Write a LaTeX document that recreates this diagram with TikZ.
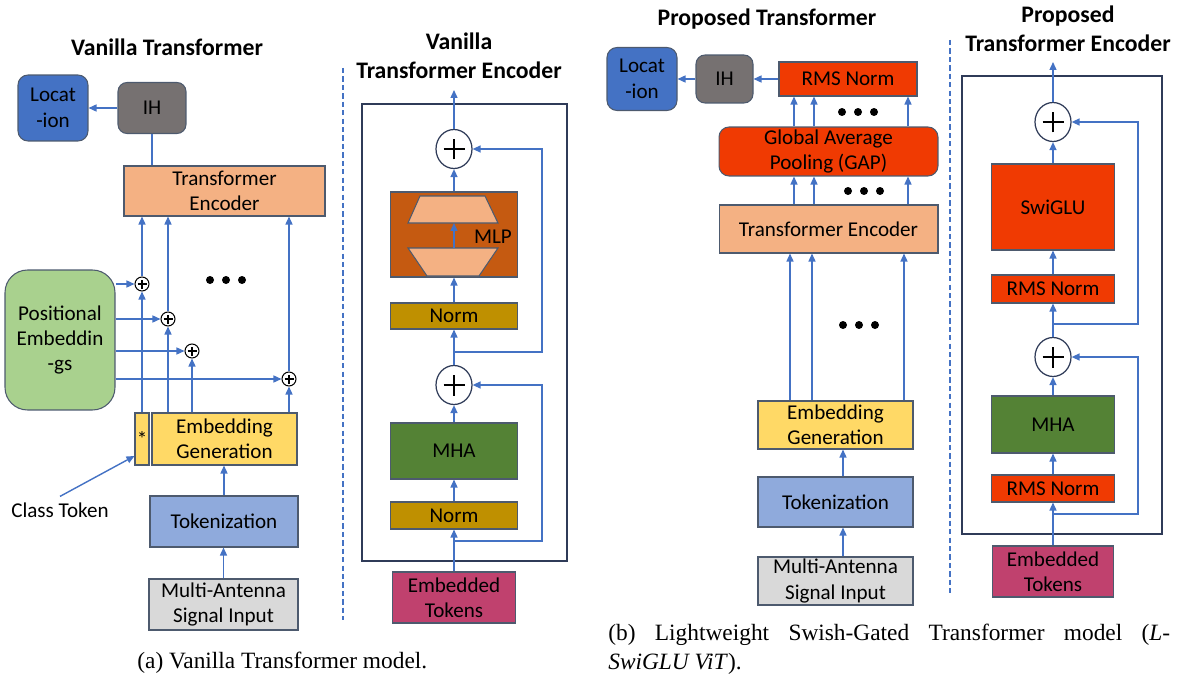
\documentclass[tikz,border=0pt]{standalone}
\usepackage{fontspec}
\setmainfont{Carlito}
\newfontfamily\capfont{Liberation Serif}
\usepackage{xcolor}
\usetikzlibrary{arrows.meta,shapes.geometric}

\definecolor{arrblue}{HTML}{4472C4}
\definecolor{edge}{HTML}{4D5A6E}
\definecolor{navy}{HTML}{2F3B58}
\definecolor{locblue}{HTML}{4472C4}
\definecolor{ihgray}{HTML}{767171}
\definecolor{encorange}{HTML}{F4B183}
\definecolor{posgreen}{HTML}{A9D18E}
\definecolor{embyellow}{HTML}{FFD966}
\definecolor{tokblue}{HTML}{8FAADC}
\definecolor{inpgray}{HTML}{D9D9D9}
\definecolor{mlporange}{HTML}{C55A11}
\definecolor{normgold}{HTML}{BF9000}
\definecolor{mhagreen}{HTML}{548235}
\definecolor{tokpink}{HTML}{C0416E}
\definecolor{rmsred}{HTML}{F03A02}

\tikzset{
  blk/.style={draw=edge, line width=0.6pt, align=center, inner sep=0pt},
  wh/.style 2 args={minimum width=#1cm, minimum height=#2cm},
  outer/.style={draw=navy, line width=1.1pt, inner sep=0pt},
  ttl/.style={font=\bfseries\fontsize{13.5}{16.3}\selectfont, align=center},
  arr/.style={draw=arrblue, line width=0.8pt, -{Triangle[length=1.6mm,width=1.4mm]}},
  ln/.style={draw=arrblue, line width=0.8pt},
  sep/.style={draw=arrblue, line width=1pt, dash pattern=on 3pt off 1.8pt},
  captxt/.style={anchor=base west, inner sep=0pt, font=\capfont\fontsize{13.3}{16.6}\selectfont},
  sumbig/.style={ellipse, draw=navy, line width=0.7pt, fill=white, inner sep=0pt,
    minimum width=0.72cm, minimum height=0.78cm,
    path picture={\draw[line width=1.4pt, black]
      ([xshift=-0.21cm]path picture bounding box.center) -- ([xshift=0.21cm]path picture bounding box.center)
      ([yshift=-0.21cm]path picture bounding box.center) -- ([yshift=0.21cm]path picture bounding box.center);}},
  sumsmall/.style={circle, draw=black, line width=0.6pt, fill=white, inner sep=0pt,
    minimum size=0.28cm,
    path picture={\draw[line width=0.7pt, black]
      ([xshift=-0.09cm]path picture bounding box.center) -- ([xshift=0.09cm]path picture bounding box.center)
      ([yshift=-0.09cm]path picture bounding box.center) -- ([yshift=0.09cm]path picture bounding box.center);}},
}

\begin{document}
\begin{tikzpicture}[x=0.02cm, y=-0.02cm, every node/.style={font=\fontsize{12}{14.5}\selectfont}]
    \useasboundingbox (0,0) rectangle (1187,679);

    % (a) Vanilla Transformer
    \node[ttl] (ttl1) at (167,47) {Vanilla Transformer};
    \node[blk, fill=locblue, rounded corners=0.2cm, wh={1.4}{1.32}] (loc1) at (53,108) {Locat\\-ion};
    \node[blk, fill=ihgray, rounded corners=0.18cm, wh={1.36}{1.02}] (ih1) at (152,108) {IH};
    \node[blk, fill=encorange, wh={4.02}{1.0}] (enc1) at (224.5,191) {Transformer\\Encoder};
    \node[blk, fill=posgreen, rounded corners=0.45cm, wh={2.2}{2.8}] (pos) at (60,340) {Positional\\Embeddin\\-gs};
    \node[blk, fill=embyellow, wh={0.28}{1.04}] (star) at (142,439) {*};
    \node[blk, fill=embyellow, wh={2.9}{1.04}] (emb1) at (224.5,439) {Embedding\\Generation};
    \node[blk, fill=tokblue, wh={2.96}{1.02}] (tok1) at (224,521.5) {Tokenization};
    \node[blk, fill=inpgray, wh={2.98}{1.02}] (inp1) at (223.5,604.5) {Multi-Antenna\\Signal Input};
    \node (ctok) at (60,510) {Class Token};

    % adders
    \node[sumsmall] (p1) at (142,284) {};
    \node[sumsmall] (p2) at (168,319) {};
    \node[sumsmall] (p3) at (192,351) {};
    \node[sumsmall] (p4) at (289,379) {};
    \foreach \dx in {-16,0,16} \fill (226+\dx,280) circle (0.08cm);

    \draw[arr] (ih1) -- (loc1);
    \draw[ln] (enc1.north -| ih1.south) -- (ih1.south);
    \draw[arr] (star) -- (p1);
    \draw[arr] (p1) -- (p1 |- enc1.south);
    \draw[arr] (emb1.north -| p2) -- (p2);
    \draw[arr] (p2) -- (p2 |- enc1.south);
    \draw[arr] (emb1.north -| p3) -- (p3);
    \draw[arr] (emb1.north -| p4) -- (p4);
    \draw[arr] (p4) -- (p4 |- enc1.south);
    \foreach \p in {p1,p2,p3,p4} \draw[arr] (pos.east |- \p) -- (\p);
    \draw[arr] (ctok.north) -- ([yshift=-0.34cm]star.west);
    \draw[arr] (tok1.north) -- (tok1.north |- emb1.south);
    \draw[arr] (inp1.north) -- (inp1.north |- tok1.south);

    % Vanilla encoder
    \draw[sep] (343,68) -- (343,620);
    \node[ttl] (ttl2) at (459,55.5) {Vanilla\\Transformer Encoder};
    \node[outer, wh={4.1}{9.14}] (venc) at (464.5,332.5) {};
    \node[sumbig] (sA) at (454,149) {};
    \node[blk, fill=mlporange, wh={2.54}{1.7}] (mlp) at (454,234.5) {};
    \draw[draw=edge, line width=0.6pt, fill=encorange] (420,196) -- (485,196) -- (498,223) -- (408,223) -- cycle;
    \draw[draw=edge, line width=0.6pt, fill=encorange] (408,248) -- (498,248) -- (479,276) -- (427,276) -- cycle;
    \coordinate (tT) at (454,223);
    \coordinate (tB) at (454,248);
    \draw[arr] (tB) -- (tT);
    \node (mlpl) at (493,237) {MLP};
    \node[blk, fill=normgold, wh={2.54}{0.52}] (nA) at (454,316) {Norm};
    \node[sumbig] (sB) at (454,385) {};
    \node[blk, fill=mhagreen, wh={2.54}{1.12}] (mha1) at (454,451) {MHA};
    \node[blk, fill=normgold, wh={2.54}{0.54}] (nB) at (454,515.5) {Norm};
    \node[blk, fill=tokpink, wh={2.46}{1.02}] (et1) at (454,597.5) {Embedded\\Tokens};

    \coordinate (out1) at (454,90);
    \draw[arr] (sA) -- (out1);
    \draw[arr] (mlp) -- (sA);
    \draw[arr] (nA) -- (mlp);
    \draw[arr] (sB) -- (nA);
    \draw[arr] (mha1) -- (sB);
    \draw[arr] (nB) -- (mha1);
    \draw[arr] (et1) -- (nB);
    \coordinate (brA) at (454,352);
    \draw[arr] (brA) -- ++(88,0) |- (sA.east);
    \coordinate (brB) at (454,541);
    \draw[arr] (brB) -- ++(88,0) |- (sB.east);

    % (b) Proposed Transformer
    \node[ttl] (ttl3) at (767,19) {Proposed Transformer};
    \node[blk, fill=locblue, rounded corners=0.2cm, wh={1.4}{1.26}] (loc2) at (642,79) {Locat\\-ion};
    \node[blk, fill=ihgray, rounded corners=0.18cm, wh={1.14}{0.96}] (ih2) at (724.5,79) {IH};
    \node[blk, fill=rmsred, wh={2.76}{0.68}] (rms0) at (848,79) {RMS Norm};
    \node[blk, fill=rmsred, rounded corners=0.2cm, wh={4.38}{0.98}] (gap) at (828.5,151.5) {Global Average\\Pooling (GAP)};
    \node[blk, fill=encorange, wh={4.38}{0.96}] (enc2) at (828.5,229) {Transformer Encoder};
    \node[blk, fill=embyellow, wh={3.1}{0.96}] (emb2) at (835.5,425) {Embedding\\Generation};
    \node[blk, fill=tokblue, wh={3.1}{1.0}] (tok2) at (835.5,502) {Tokenization};
    \node[blk, fill=inpgray, wh={3.1}{0.96}] (inp2) at (835.5,581) {Multi-Antenna\\Signal Input};
    \foreach \dx in {-16,0,16} {
      \fill (858+\dx,112) circle (0.08cm);
      \fill (864+\dx,191) circle (0.08cm);
      \fill (859+\dx,325) circle (0.08cm);
    }

    \draw[arr] (rms0) -- (ih2);
    \draw[arr] (ih2) -- (loc2);
    \foreach \x [count=\i] in {794,814,908} \coordinate (cu\i) at (\x,0);
    \foreach \x [count=\i] in {790,812,904} \coordinate (cl\i) at (\x,0);
    \foreach \i in {1,2,3} {
      \draw[arr] (cu\i |- gap.north) -- (cu\i |- rms0.south);
      \draw[arr] (cu\i |- enc2.north) -- (cu\i |- gap.south);
      \draw[arr] (cl\i |- emb2.north) -- (cl\i |- enc2.south);
    }
    \coordinate (cm) at (843,0);
    \draw[arr] (cm |- tok2.north) -- (cm |- emb2.south);
    \draw[arr] (cm |- inp2.north) -- (cm |- tok2.south);

    % Proposed encoder
    \draw[sep] (950,40) -- (950,595);
    \node[ttl] (ttl4) at (1068,28.5) {Proposed\\Transformer Encoder};
    \node[outer, wh={4.0}{9.16}] (penc) at (1062,305) {};
    \node[sumbig] (sC) at (1053,122) {};
    \node[blk, fill=rmsred, wh={2.46}{1.72}] (swi) at (1053,207) {SwiGLU};
    \node[blk, fill=rmsred, wh={2.46}{0.56}] (rA) at (1053,289) {RMS Norm};
    \node[sumbig] (sD) at (1053,357) {};
    \node[blk, fill=mhagreen, wh={2.46}{1.14}] (mha2) at (1053,424.5) {MHA};
    \node[blk, fill=rmsred, wh={2.46}{0.54}] (rB) at (1053,488.5) {RMS Norm};
    \node[blk, fill=tokpink, wh={2.42}{1.02}] (et2) at (1053,571.5) {Embedded\\Tokens};

    \coordinate (out2) at (1053,62);
    \draw[arr] (sC) -- (out2);
    \draw[arr] (swi) -- (sC);
    \draw[arr] (rA) -- (swi);
    \draw[arr] (sD) -- (rA);
    \draw[arr] (mha2) -- (sD);
    \draw[arr] (rB) -- (mha2);
    \draw[arr] (et2) -- (rB);
    \coordinate (brC) at (1053,324);
    \draw[arr] (brC) -- ++(85,0) |- (sC.east);
    \coordinate (brD) at (1053,514);
    \draw[arr] (brD) -- ++(85,0) |- (sD.east);

    % captions
    \node[captxt] (capa) at (137,668) {(a) Vanilla Transformer model.};
    \node[captxt] (capb) at (608,640)
      {\parbox[t]{11.24cm}{(b) Lightweight Swish-Gated Transformer model (\textit{L-}\linebreak\textit{SwiGLU ViT}).}};
\end{tikzpicture}
\end{document}
